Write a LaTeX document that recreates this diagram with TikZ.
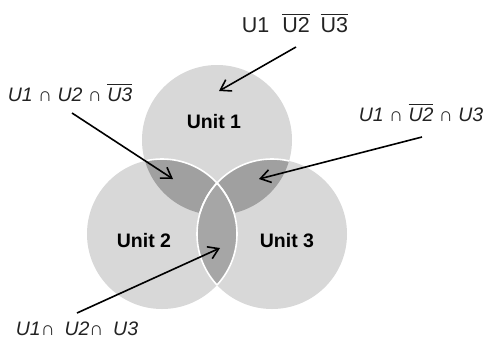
\documentclass[tikz,border=0pt]{standalone}
\usepackage{fontspec}
\setmainfont{Liberation Sans}
\usetikzlibrary{arrows.meta}
\definecolor{lightc}{RGB}{216,216,216}
\definecolor{darkc}{RGB}{160,160,160}
\definecolor{lensc}{RGB}{166,166,166}
\definecolor{textc}{RGB}{35,35,35}
\newcommand{\ovl}[1]{\vbox{\hrule height 1.3pt\kern 2pt\hbox{#1}}}
\newcommand{\cp}{{\upshape ∩}}
\begin{document}
\begin{tikzpicture}[x=1pt,y=-1pt,
  lbl/.style={font=\fontsize{19.5}{22}\selectfont\itshape, text=textc, anchor=base, inner sep=0pt},
  toplbl/.style={font=\fontsize{21.5}{24}\selectfont, text=textc, anchor=base, inner sep=0pt},
  unitlbl/.style={font=\fontsize{19.5}{22}\selectfont\bfseries, text=black, anchor=base, inner sep=0pt},
  arr/.style={line width=1.6pt, black, -{Straight Barb[length=10pt,width=13pt,line width=1.6pt]}},
  edge/.style={draw=white, line width=1.6pt}]
\useasboundingbox (0,0) rectangle (484,346);
\fill[white] (0,0) rectangle (484,346);
% circles
\coordinate (c1) at (217,140);
\coordinate (c2) at (162,234);
\coordinate (c3) at (272,234);
\fill[lightc] (c1) circle[radius=75];
\fill[lightc] (c2) circle[radius=75];
\fill[lightc] (c3) circle[radius=75];
\begin{scope}
  \clip (c1) circle[radius=75];
  \fill[darkc] (c2) circle[radius=75];
  \fill[darkc] (c3) circle[radius=75];
\end{scope}
\begin{scope}
  \clip (c2) circle[radius=75];
  \fill[lensc] (c3) circle[radius=75];
\end{scope}
\begin{scope}
  \clip (c1) circle[radius=75];
  \draw[edge] (c2) circle[radius=75];
  \draw[edge] (c3) circle[radius=75];
\end{scope}
\begin{scope}
  \clip (c2) circle[radius=75];
  \draw[edge] (c3) circle[radius=75];
\end{scope}
\begin{scope}
  \clip (c3) circle[radius=75];
  \draw[edge] (c2) circle[radius=75];
\end{scope}
% unit labels
\node[unitlbl] (u1) at (214,128) {Unit 1};
\node[unitlbl] (u2) at (144,247) {Unit 2};
\node[unitlbl] (u3) at (287,247) {Unit 3};
% set labels
\node[toplbl] (ltop) at (295,32) {U1\hspace{0.6em}\ovl{U2}\hspace{0.5em}\ovl{U3}};
\node[lbl] (lleft) at (70,101) {U1 \cp{} U2 \cp{} \ovl{U3}};
\node[lbl] (lright) at (421,121) {U1 \cp{} \ovl{U2} \cp{} U3};
\node[lbl] (lbot) at (77,335) {U1\cp\hspace{0.5em}U2\cp\hspace{0.5em}U3};
% arrows
\coordinate (s1) at (296,47);  \coordinate (e1) at (219,91);
\coordinate (s2) at (72,113);  \coordinate (e2) at (173,179);
\coordinate (s3) at (422,137); \coordinate (e3) at (259,179);
\coordinate (s4) at (77,313);  \coordinate (e4) at (220,248);
\draw[arr] (s1) -- (e1);
\draw[arr] (s2) -- (e2);
\draw[arr] (s3) -- (e3);
\draw[arr] (s4) -- (e4);
\end{tikzpicture}
\end{document}
